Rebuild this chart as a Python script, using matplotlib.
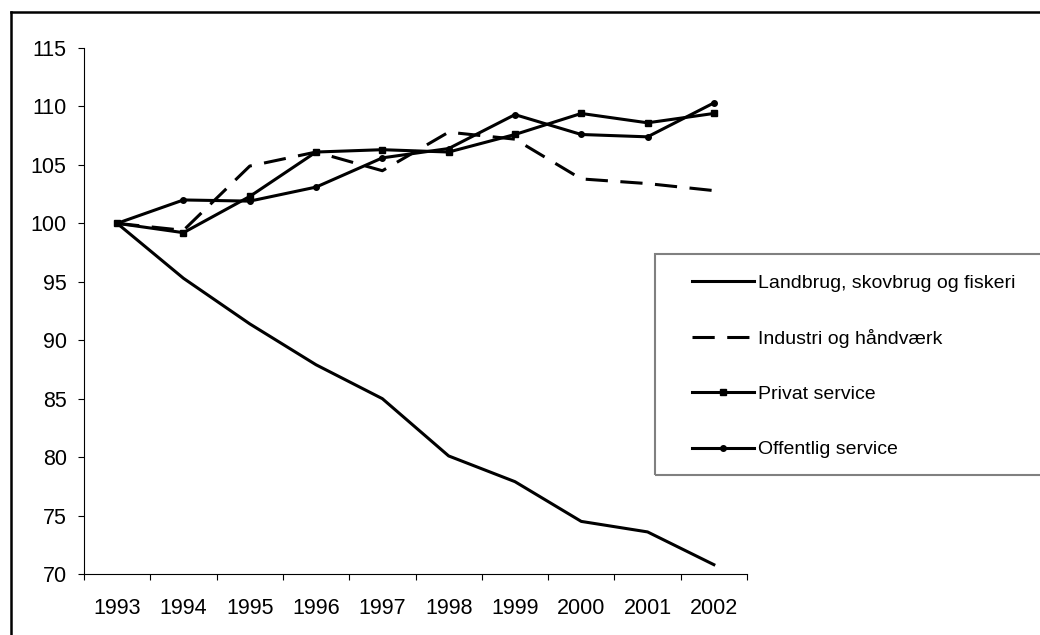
import matplotlib
matplotlib.use("Agg")
import matplotlib.pyplot as plt
from matplotlib.lines import Line2D
from matplotlib.patches import Rectangle

plt.rcParams['font.family'] = ['Liberation Sans', 'DejaVu Sans']
plt.rcParams['lines.scale_dashes'] = False

years = ['1993', '1994', '1995', '1996', '1997', '1998', '1999', '2000', '2001', '2002']
landbrug = [100, 95.3, 91.4, 87.9, 85.0, 80.1, 77.9, 74.5, 73.6, 70.8]
industri = [100, 99.4, 104.9, 106.1, 104.5, 107.8, 107.2, 103.8, 103.4, 102.8]
privat = [100, 99.2, 102.3, 106.1, 106.3, 106.1, 107.6, 109.4, 108.6, 109.4]
offentlig = [100, 102.0, 101.9, 103.1, 105.6, 106.4, 109.3, 107.6, 107.4, 110.3]
labels = ['Landbrug, skovbrug og fiskeri', 'Industri og håndværk',
          'Privat service', 'Offentlig service']

W, H = 1040, 635
fig = plt.figure(figsize=(W / 100, H / 100), dpi=100)
ax = fig.add_axes([84 / W, 1 - 574 / H, (747 - 84) / W, (574 - 48) / H])

x = list(range(len(years)))
lw = 2.2
l1, = ax.plot(x, landbrug, color='black', lw=lw)
l2, = ax.plot(x, industri, color='black', lw=lw, dashes=(16, 9))
l3, = ax.plot(x, privat, color='black', lw=lw, marker='s', ms=4)
l4, = ax.plot(x, offentlig, color='black', lw=lw, marker='o', ms=4)

ax.set_xlim(-0.5, 9.5)
ax.set_ylim(70, 115)
ax.set_yticks(range(70, 116, 5))
ax.set_xticks(x)
ax.set_xticklabels(years)
ax.set_xticks([i - 0.5 for i in range(len(years) + 1)], minor=True)
ax.tick_params(axis='x', which='major', length=0, pad=17, labelsize=15.5)
ax.tick_params(axis='x', which='minor', length=4.5, width=0.8, direction='out')
ax.tick_params(axis='y', length=4.5, width=0.8, pad=8, labelsize=15.5)
for s in ['top', 'right']:
    ax.spines[s].set_visible(False)
for s in ['left', 'bottom']:
    ax.spines[s].set_linewidth(0.8)

# outer chart frame (cut off at right and bottom)
fig.add_artist(Line2D([11 / W, 11 / W], [0, 1 - 12 / H], color='black', lw=1.8))
fig.add_artist(Line2D([11 / W, 1], [1 - 12 / H, 1 - 12 / H], color='black', lw=1.8))

# legend frame
fig.add_artist(Rectangle((655 / W, 1 - 475 / H), (1060 - 655) / W, (475 - 254) / H,
                         transform=fig.transFigure, fill=False,
                         edgecolor='#808080', lw=1.5))
fig.legend([l1, l2, l3, l4], labels, loc='upper left',
           bbox_to_anchor=(692 / W, 1 - 274 / H), frameon=False,
           fontsize=14, handlelength=3.2, handletextpad=0.2,
           labelspacing=1.93, borderpad=0, borderaxespad=0, numpoints=1)

fig.savefig('out.png', dpi=100)
